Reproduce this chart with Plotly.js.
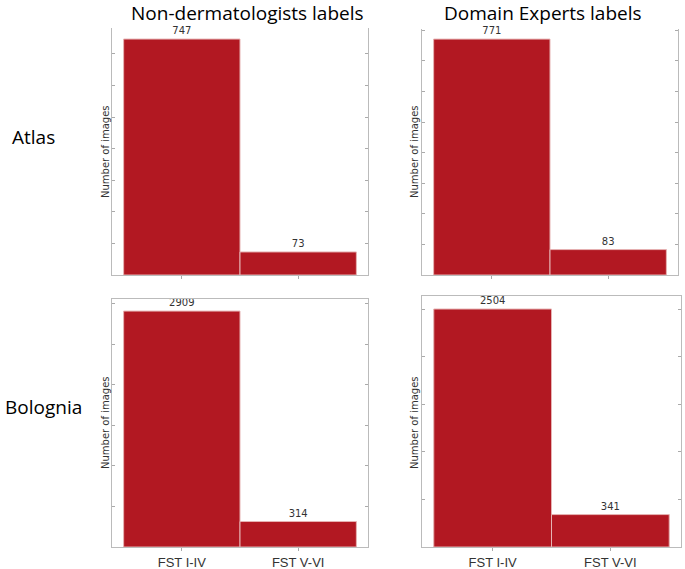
<!DOCTYPE html>
<html>
<head>
<meta charset="utf-8">
<script src="https://cdn.plot.ly/plotly-3.0.1.min.js"></script>
<style>
  html, body { margin: 0; padding: 0; background: #fff; }
  #chart { width: 685px; height: 569px; }
</style>
</head>
<body>
<div id="chart"></div>
<script>
// data
const categories = ["FST I-IV", "FST V-VI"];
const atlasNonDerm = [747, 73];
const atlasExperts = [771, 83];
const bolognaNonDerm = [2909, 314];
const bolognaExperts = [2504, 341];
const columnTitles = ["Non-dermatologists labels", "Domain Experts labels"];
const rowTitles = ["Atlas", "Bolognia"];
const yTitle = "Number of images";

const W = 685, H = 569;
const BAR_RED = "#B21822";

// pixel helpers -> paper coords
let px = (x) => x / W;
let py = (y) => 1 - y / H;

let makeBar = (values, n) => ({
  type: "bar",
  x: categories,
  y: values,
  width: [1, 1],
  xaxis: n === 1 ? "x" : `x${n}`,
  yaxis: n === 1 ? "y" : `y${n}`,
  marker: { color: BAR_RED, line: { color: "#e6b3b3", width: 1 } },
  text: values.map(String),
  textposition: "outside",
  textfont: { family: "DejaVu Sans", size: 10, color: "#333" },
  cliponaxis: false,
  hoverinfo: "x+y",
  showlegend: false,
});

let data = [
  makeBar(atlasNonDerm, 1),
  makeBar(atlasExperts, 2),
  makeBar(bolognaNonDerm, 3),
  makeBar(bolognaExperts, 4),
];

let xAxis = (domain, anchor, bottomRow) => ({
  domain: domain,
  anchor: anchor,
  range: [-0.6, 1.6],
  showgrid: false,
  zeroline: false,
  showline: true,
  linecolor: "#bbbbbb",
  linewidth: 1,
  mirror: bottomRow ? true : false,
  ticks: "outside",
  ticklen: 3,
  tickcolor: "#aaaaaa",
  showticklabels: bottomRow,
  tickfont: { family: "Liberation Sans", size: 13, color: "#333" },
  fixedrange: true,
});

let yAxis = (domain, anchor, top, dtick) => ({
  domain: domain,
  anchor: anchor,
  range: [0, top],
  dtick: dtick,
  showgrid: false,
  zeroline: false,
  showline: true,
  linecolor: "#bbbbbb",
  linewidth: 1,
  mirror: "ticks",
  ticks: "inside",
  ticklen: 3,
  tickcolor: "#aaaaaa",
  showticklabels: false,
  fixedrange: true,
});

let annotations = [];
// column titles
[[247, columnTitles[0]], [543, columnTitles[1]]].forEach(([x, t]) => {
  annotations.push({
    text: t, xref: "paper", yref: "paper", x: px(x), y: py(13),
    xanchor: "center", yanchor: "middle", showarrow: false,
    font: { family: "Open Sans", size: 19, color: "#000" },
  });
});
// row titles
[[10, 137, rowTitles[0]], [3, 407, rowTitles[1]]].forEach(([x, y, t]) => {
  annotations.push({
    text: t, xref: "paper", yref: "paper", x: px(x), y: py(y),
    xanchor: "left", yanchor: "middle", showarrow: false,
    font: { family: "Open Sans", size: 19, color: "#000" },
  });
});
// y axis titles
[[105, 152], [414, 152], [105, 423], [414, 423]].forEach(([x, y]) => {
  annotations.push({
    text: yTitle, xref: "paper", yref: "paper", x: px(x), y: py(y),
    xanchor: "center", yanchor: "middle", showarrow: false, textangle: -90,
    font: { family: "DejaVu Sans", size: 10, color: "#333" },
  });
});

let layout = {
  width: W,
  height: H,
  margin: { l: 0, r: 0, t: 0, b: 0 },
  paper_bgcolor: "#fff",
  plot_bgcolor: "#fff",
  bargap: 0,
  xaxis: xAxis([px(112), px(368)], "y", false),
  yaxis: yAxis([py(275), py(28)], "x", 782, 100),
  xaxis2: xAxis([px(422), px(678)], "y2", false),
  yaxis2: yAxis([py(275), py(29)], "x2", 804, 100),
  xaxis3: xAxis([px(112), px(368)], "y3", true),
  yaxis3: yAxis([py(547), py(299)], "x3", 3058, 500),
  xaxis4: xAxis([px(422), px(681)], "y4", true),
  yaxis4: yAxis([py(547), py(296)], "x4", 2641, 500),
  annotations: annotations,
};

Plotly.newPlot("chart", data, layout, { staticPlot: true, displayModeBar: false });
</script>
</body>
</html>
